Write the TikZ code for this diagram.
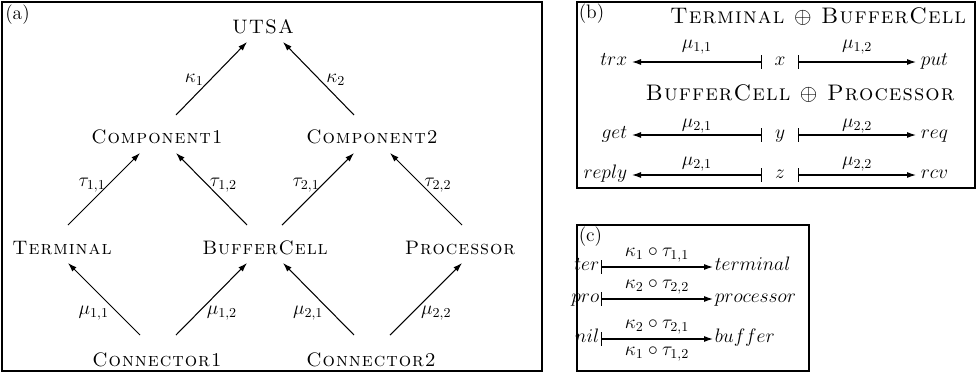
\RequirePackage{fix-cm}
\documentclass[tikz,border=0pt]{standalone}
\usepackage{amssymb, amsmath}
\usepackage{fontspec}
\usepackage{tikz}
\usetikzlibrary{arrows.meta, calc}
\newfontfamily\capsfont{lmromancaps10-regular}[Extension=.otf, LetterSpace=5]

\tikzset{
	every node/.style={font=\fontsize{13}{15.6}\selectfont},
	sysname/.style={font=\fontsize{13}{15.6}\selectfont\capsfont},
	title/.style={font=\fontsize{15}{18}\selectfont\capsfont},
	arr/.style={line width=0.7pt, -{Latex[length=6pt,width=4pt]}},
	mapsto/.style={line width=0.7pt, {Bar[width=9pt]}-{Latex[length=6pt,width=4pt]}},
	panel/.style={line width=1.3pt},
	lab/.style={inner sep=0pt},
	rownode/.style={text height=0.73em, text depth=0.3em, inner sep=3pt},
	midnode/.style={rownode, minimum width=24pt, inner sep=0pt},
}

\begin{document}
\begin{tikzpicture}[x=0.6667pt, y=0.6667pt]
		\useasboundingbox (0,0) rectangle (976,374);
		\draw[panel] (2,3) rectangle (542,372);
		\draw[panel] (577,186) rectangle (975,372);
		\draw[panel] (577,3) rectangle (809,149);
		\node[anchor=north west, inner sep=2pt] (pa) at (2,372) {(a)};
		\node[anchor=north west, inner sep=1pt] (pb) at (577,372) {(b)};
		\node[anchor=north west, inner sep=1pt] (pc) at (577,149) {(c)};
		
		% (a)
		\node[sysname] (utsa) at (263,347) {UTSA};
		\node[sysname] (comp1) at (157,237) {Component1};
		\node[sysname] (comp2) at (372,237) {Component2};
		\node[sysname] (term) at (62,126) {Terminal};
		\node[sysname] (buf) at (265,126) {BufferCell};
		\node[sysname] (proc) at (460,126) {Processor};
		\node[sysname] (conn1) at (157,14) {Connector1};
		\node[sysname] (conn2) at (371,14) {Connector2};
		
		\foreach \s/\sx/\sy/\e/\ex/\ey/\l/\d/\g/\p in {
			comp1/19/22/utsa/-16/-15/{\kappa_1}/left/4pt/0.48,
			comp2/-18/22/utsa/20/-15/{\kappa_2}/right/4pt/0.48,
			term/6/23/comp1/-17/-16/{\tau_{1,1}}/left/1pt/0.55,
			buf/-18/23/comp1/19/-16/{\tau_{1,2}}/right/1pt/0.55,
			buf/17/23/comp2/-18/-16/{\tau_{2,1}}/left/1pt/0.55,
			proc/2/23/comp2/18/-16/{\tau_{2,2}}/right/1pt/0.55,
			conn1/-17/25/term/6/-15/{\mu_{1,1}}/left/6pt/0.3,
			conn1/19/25/buf/-18/-15/{\mu_{1,2}}/right/6pt/0.3,
			conn2/-17/25/buf/18/-15/{\mu_{2,1}}/left/6pt/0.3,
			conn2/19/25/proc/2/-15/{\mu_{2,2}}/right/6pt/0.3}
		{
		\draw[arr] ($(\s)+(\sx,\sy)$) -- node[lab,pos=\p,\d=\g]{$\l$} ($(\e)+(\ex,\ey)$);
		}
		
		% (b)
		\node[title] (tb) at (818,357) {Terminal $\oplus$ BufferCell};
		\node[title] (bp) at (800,280) {BufferCell $\oplus$ Processor};
		\foreach \n/\yy/\l/\c/\r/\i/\g in {1/312/trx/x/put/1/5pt, 2/239/get/y/req/2/1pt, 3/199/reply/z/rcv/2/2pt}
		{
		\node[rownode,anchor=east] (bl\n) at (632,\yy) {$\l$};
		\node[midnode] (bc\n) at (780,\yy) {$\c$};
		\node[rownode,anchor=west] (br\n) at (916,\yy) {$\r$};
		\draw[mapsto] (bc\n) -- node[lab,above=\g]{$\mu_{\i,1}$} (bl\n);
		\draw[mapsto] (bc\n) -- node[lab,above=\g]{$\mu_{\i,2}$} (br\n);
		}
		
		% (c)
		\foreach \n/\yy/\l/\r/\t in {1/107/ter/terminal/{\kappa_1\circ\tau_{1,1}}, 2/75/pro/processor/{\kappa_2\circ\tau_{2,2}}, 3/35/nil/buffer/{\kappa_2\circ\tau_{2,1}}}
		{
		\node[rownode,anchor=east,inner sep=1pt] (cl\n) at (601,\yy) {$\l$};
		\node[rownode,anchor=west,inner sep=1pt] (cr\n) at (713,\yy) {$\r$};
		\draw[mapsto] (cl\n) -- node[lab,above=3pt]{$\t$} (cr\n);
		}
		\path (cl3) -- node[lab,below=5pt]{$\kappa_1\circ\tau_{1,2}$} (cr3);
	\end{tikzpicture}
\end{document}
